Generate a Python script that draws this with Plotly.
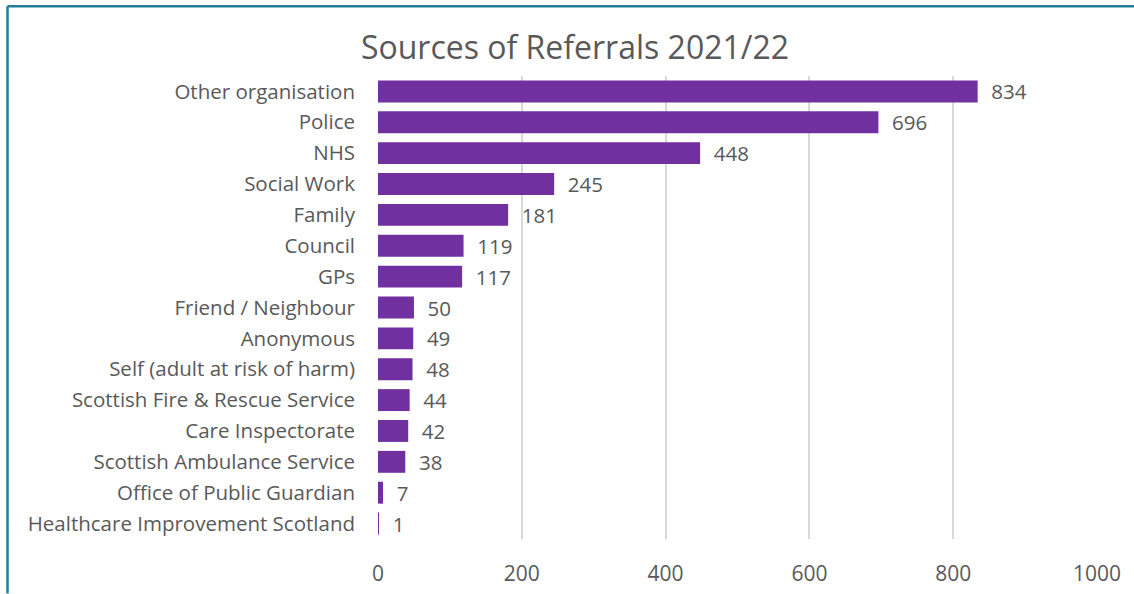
import plotly.graph_objects as go

categories = [
    "Other organisation", "Police", "NHS", "Social Work", "Family", "Council", "GPs",
    "Friend / Neighbour", "Anonymous", "Self (adult at risk of harm)",
    "Scottish Fire & Rescue Service", "Care Inspectorate", "Scottish Ambulance Service",
    "Office of Public Guardian", "Healthcare Improvement Scotland",
]
values = [834, 696, 448, 245, 181, 119, 117, 50, 49, 48, 44, 42, 38, 7, 1]
x_ticks = [0, 200, 400, 600, 800, 1000]
title = "Sources of Referrals 2021/22"

W, H = 1134, 594
ML, MR, MT, MB = 378, 37, 75.5, 54.5
PW, PH = W - ML - MR, H - MT - MB

FONT = "'Open Sans', Lato, sans-serif"
GRAY = "#595959"

fig = go.Figure(go.Bar(
    y=categories, x=values, orientation="h",
    marker=dict(color="#7030A0", line=dict(width=0)),
    text=values, texttemplate="  %{text}", textposition="outside",
    constraintext="none",
    textfont=dict(family=FONT, size=20.5, color=GRAY),
    cliponaxis=False,
))

fig.update_layout(
    width=W, height=H,
    margin=dict(l=ML, r=MR, t=MT, b=MB, pad=0, autoexpand=False),
    paper_bgcolor="white", plot_bgcolor="white",
    showlegend=False,
    bargap=0.29,
    title=dict(text=title, x=575 / W, xanchor="center", y=1 - 48 / H, yanchor="middle",
               font=dict(family=FONT, size=32, color=GRAY)),
    xaxis=dict(range=[0, 1000], tickvals=x_ticks, showgrid=True, gridcolor="#d9d9d9", gridwidth=2,
               zeroline=False, showline=False, ticks="", ticklen=0, ticklabelstandoff=20,
               automargin=False,
               tickfont=dict(family=FONT, size=21, color=GRAY)),
    yaxis=dict(autorange="reversed", showgrid=False, zeroline=False, showline=False,
               ticks="", ticklabelstandoff=22, automargin=False,
               tickfont=dict(family=FONT, size=20.5, color=GRAY)),
    shapes=[
        dict(type="line", xref="paper", yref="paper",
             x0=(7.5 - ML) / PW, x1=(7.5 - ML) / PW, y0=-MB / PH, y1=1 + (MT - 5.5) / PH,
             line=dict(color="#1F7F99", width=2.5)),
        dict(type="line", xref="paper", yref="paper",
             x0=(7.5 - ML) / PW, x1=(W - ML) / PW, y0=1 + (MT - 5.5) / PH, y1=1 + (MT - 5.5) / PH,
             line=dict(color="#1F7F99", width=2.5)),
    ],
)

fig.write_html("out.html", config={"displayModeBar": False},
               post_script="document.body.style.margin='0';document.body.style.padding='0';")
